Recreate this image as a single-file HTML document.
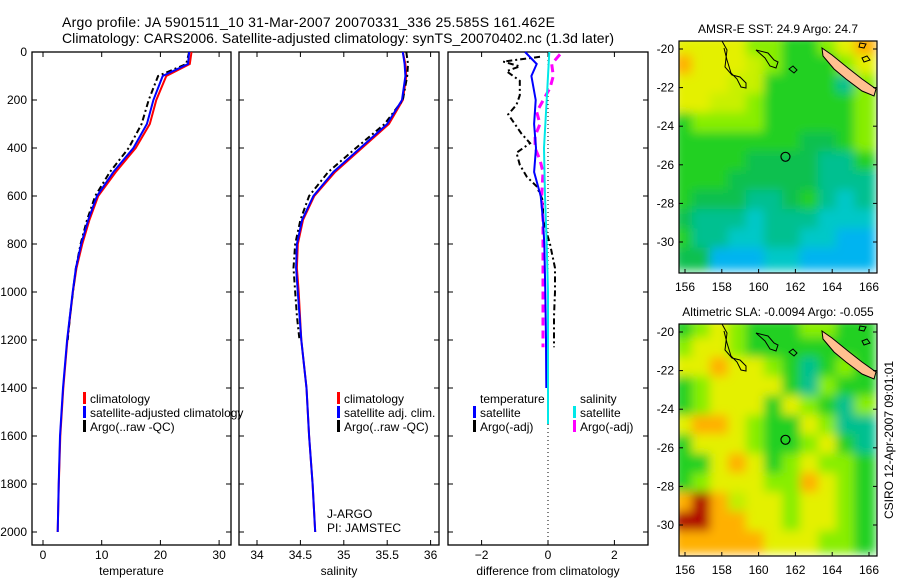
<!DOCTYPE html>
<html><head><meta charset="utf-8">
<style>
html,body{margin:0;padding:0;background:#fff}
svg{display:block;font-family:"Liberation Sans",sans-serif}
text{font-size:12px;fill:#000}
</style></head>
<body>
<svg id="fig" width="900" height="580" viewBox="0 0 900 580" xmlns="http://www.w3.org/2000/svg">
<defs>
<filter id="blur" x="-5%" y="-5%" width="110%" height="110%"><feGaussianBlur stdDeviation="5"/></filter>
<clipPath id="clipTop"><rect x="679" y="41" width="198" height="232"/></clipPath>
<clipPath id="clipBot"><rect x="679" y="324" width="198" height="232"/></clipPath>
</defs>
<text x="62" y="27" style="font-size:14px" textLength="493">Argo profile: JA 5901511_10 31-Mar-2007 20070331_336 25.585S 161.462E</text>
<text x="62" y="43" style="font-size:14px" textLength="552">Climatology: CARS2006. Satellite-adjusted climatology: synTS_20070402.nc (1.3d later)</text>
<g id="plots"></g>
<g id="maps"></g>
<text transform="translate(893,440) rotate(-90)" text-anchor="middle">CSIRO 12-Apr-2007 09:01:01</text>
</svg>
<script>
// ---- data ----
const depthTicks=[0,200,400,600,800,1000,1200,1400,1600,1800,2000];
const tempTicks=[0,10,20,30];
const salTicks=[34,34.5,35,35.5,36];
const diffTicks=[-2,0,2];
const satDepth=[0,50,100,200,300,400,500,600,700,800,900,1000,1200,1400,1600,1800,2000];
const tempSat=[24.9,24.7,20.4,18.8,17.7,15.4,12.0,9.2,7.7,6.5,5.6,5.06,4.1,3.4,2.9,2.67,2.5];
const tempClim=[25.3,25.0,21.0,19.3,18.2,15.8,12.4,9.4,7.9,6.7,5.7,5.1,4.15,3.45,2.95,2.7,2.5];
const argoDepth=[0,50,100,200,300,400,500,600,700,800,900,1000,1100,1200];
const tempArgo=[24.9,24.4,19.6,18.0,16.8,14.6,11.4,8.9,7.5,6.4,5.6,5.1,4.6,4.2];
const salSat=[35.68,35.70,35.71,35.67,35.50,35.19,34.88,34.65,34.52,34.46,34.45,34.47,34.51,34.57,34.60,34.64,34.67];
const salClim=[35.68,35.71,35.72,35.68,35.52,35.21,34.90,34.66,34.53,34.47,34.46,34.48,34.51,34.57,34.60,34.64,34.67];
const salArgo=[35.72,35.74,35.73,35.68,35.47,35.14,34.82,34.60,34.50,34.44,34.42,34.44,34.46,34.49];
const diffDepthT=[0,50,100,200,300,400,500,600,700,800,1000,1200,1400];
const diffTSat=[-0.69,-0.34,-0.5,-0.37,-0.42,-0.36,-0.42,-0.22,-0.15,-0.11,-0.08,-0.06,-0.05];
const diffDepthTA=[20,40,60,80,120,180,220,260,300,340,380,420,470,520,560,620,700,800,900,1000,1100,1230];
const diffTArgo=[-0.24,-1.35,-0.85,-1.25,-0.85,-0.85,-0.95,-1.2,-1.0,-0.8,-0.54,-0.95,-0.85,-0.64,-0.34,-0.15,-0.15,0.06,0.21,0.21,0.18,0.18];
const diffDepthS=[0,200,400,600,800,1000,1200,1550];
const diffSSat=[0.04,-0.04,-0.12,-0.09,-0.04,0,0,0];
const diffDepthSA=[10,50,100,150,250,300,350,400,450,500,600,700,800,1000,1230];
const diffSArgo=[0.36,0.11,0.16,0.06,-0.34,-0.24,-0.39,-0.39,-0.24,-0.15,-0.19,-0.15,-0.15,-0.15,-0.15];
const lonTicks=[156,158,160,162,164,166];
const latTicks=[-20,-22,-24,-26,-28,-30];
const sstGrid=["YYYYLLGGLYO","OYYYyLGGGLY","YYYyyGGGGTL","YYyyLGGGGGL","GLLLLGGGGGL","GGGGGGGggGL","GGGGggggTTG","GGGgggggTTT","GgggTTgGTCT","gTTTCTTTCCC","GTTCCTTCCBB","ggBBBCCBBBB"];
const slaGrid=["GLYLGGGLLGG","LYYLGGGGGGG","YYOYYLGTGLG","GLYYYYGTLGG","GLYYYGYLGTL","YOOYLGGYLTT","GYYYLGGLYGT","GGYOYGLYLLG","GLYYYLLOYLG","ORObYYLYYLG","RROOYYLYYLG","OOOOOYYYLLG"];
const palette={Y:"#e4f000",y:"#c8f000",L:"#88ee00",G:"#20d020",g:"#10c050",T:"#00c090",C:"#00c8c8",B:"#00b4f0",O:"#ffb000",R:"#b00000",b:"#c0ee00"};
// ---- helpers ----
const NS="http://www.w3.org/2000/svg";
const plots=document.getElementById('plots');
const maps=document.getElementById('maps');
function mk(tag,attrs,parent){const e=document.createElementNS(NS,tag);for(const k in attrs)e.setAttribute(k,attrs[k]);parent.appendChild(e);return e;}
const Y0=52,DY=0.24,PB=545;
function yD(d){return Y0+DY*d;}
function xT(t){return 43+5.87*t;}
function xS(s){return 257+86.8*(s-34);}
function xDf(v){return 548+33.2*v;}
function line(xs,ds,fx,color,w,dash,name){
  let p='';for(let i=0;i<xs.length;i++){p+=(i?'L':'M')+fx(xs[i]).toFixed(1)+','+yD(ds[i]).toFixed(1);}
  const e=mk('path',{d:p,fill:'none',stroke:color,'stroke-width':w},plots);
  if(dash)e.setAttribute('stroke-dasharray',dash);
  
  
}
function panel(x0,x1,name,xticks,fx,xlabel,ylabels){
  const g=mk('g',{},plots);
  
  
  mk('rect',{x:x0,y:Y0,width:x1-x0,height:PB-Y0,fill:'none',stroke:'#000','stroke-width':1.3},g);
  depthTicks.forEach(d=>{
    mk('line',{x1:x0,x2:x0+5,y1:yD(d),y2:yD(d),stroke:'#000'},g);
    mk('line',{x1:x1-5,x2:x1,y1:yD(d),y2:yD(d),stroke:'#000'},g);
    if(ylabels){const t=mk('text',{x:x0-5,y:yD(d)+4,'text-anchor':'end'},g);t.textContent=d;
      
      }
  });
  xticks.forEach(v=>{
    const x=fx(v);
    mk('line',{x1:x,x2:x,y1:PB,y2:PB-5,stroke:'#000'},g);
    mk('line',{x1:x,x2:x,y1:Y0,y2:Y0+5,stroke:'#000'},g);
    const t=mk('text',{x:x,y:PB+14,'text-anchor':'middle'},g);t.textContent=(v<0?'\u2212':'')+Math.abs(v);
    
    
  });
  const l=mk('text',{x:(x0+x1)/2,y:PB+30,'text-anchor':'middle'},g);l.textContent=xlabel;
  
  
}
function legend(x,y,items,g){
  items.forEach((it,i)=>{
    if(it[0])mk('rect',{x:x,y:y+i*14-11,width:3,height:12,fill:it[0]},g);
    const t=mk('text',{x:x+7,y:y+i*14},g);t.textContent=it[1];
    
    
  });
}
panel(32,231,'temperature-panel',tempTicks,xT,'temperature',true);
panel(239,439,'salinity-panel',salTicks,xS,'salinity',false);
panel(448,648,'difference-panel',diffTicks,xDf,'difference from climatology',false);
// zero dotted line
mk('line',{x1:xDf(0),x2:xDf(0),y1:Y0,y2:PB,stroke:'#000','stroke-dasharray':'1,3'},plots);
line(tempClim,satDepth,xT,'#ff0000',2,null,'temp-climatology-line');
line(tempArgo,argoDepth,xT,'#000',2,'6,3,2,3','temp-argo-line');
line(tempSat,satDepth,xT,'#0000ff',2,null,'temp-satellite-line');
line(salClim,satDepth,xS,'#ff0000',2,null,'sal-climatology-line');
line(salArgo,argoDepth,xS,'#000',2,'6,3,2,3','sal-argo-line');
line(salSat,satDepth,xS,'#0000ff',2,null,'sal-satellite-line');
line(diffTArgo,diffDepthTA,xDf,'#000',2,'6,3,2,3','diff-temp-argo-line');
line(diffSArgo,diffDepthSA,xDf,'#ff00ff',3,'8,5','diff-sal-argo-line');
line(diffTSat,diffDepthT,xDf,'#0000ff',2,null,'diff-temp-satellite-line');
line(diffSSat,diffDepthS,xDf,'#00e8e8',2,null,'diff-sal-satellite-line');
const lg=mk('g',{},plots);
legend(83,403,[['#ff0000','climatology'],['#0000ff','satellite-adjusted climatology'],['#000','Argo(..raw -QC)']],lg);
legend(337,403,[['#ff0000','climatology'],['#0000ff','satellite adj. clim.'],['#000','Argo(..raw -QC)']],lg);
legend(473,403,[[null,'temperature'],['#0000ff','satellite'],['#000','Argo(-adj)']],lg);
legend(573,403,[[null,'salinity'],['#00e8e8','satellite'],['#ff00ff','Argo(-adj)']],lg);
let t=mk('text',{x:327,y:518},lg);t.textContent='J-ARGO';


t=mk('text',{x:327,y:532},lg);t.textContent='PI: JAMSTEC';


// ---- maps ----
function drawMap(top,grid,title,clip,name){
  const g=mk('g',{},maps);
  
  
  const lx=lon=>685+18.4*(lon-156);
  const ly=lat=>top+8+(-20-lat)*19.3;
  const cg=mk('g',{'clip-path':'url(#'+clip+')'},g);
  const bg=mk('g',{filter:'url(#blur)'},cg);
  grid.forEach((row,r)=>{[...row].forEach((c,k)=>{
    const x0=lx(155.5+k*0.98),y0=ly(-19.4-r*1.0);
    mk('rect',{x:x0-2,y:y0-2,width:22,height:23,fill:palette[c]},bg);
  });});
  // coastline contours
  const o=top-41;
  mk('path',{d:`M722,${41+o} L727,${50+o} L725,${67+o} L732,${75+o} L740,${77+o} L746,${83+o} L746,${88+o} L741,${87+o} L737,${79+o} L731,${73+o} L727,${60+o} L724,${48+o}`,fill:'none',stroke:'#000','stroke-width':1},cg);
  mk('path',{d:`M756,${50+o} L768,${53+o} L774,${60+o} L778,${62+o} L776,${68+o} L770,${66+o} L765,${58+o} Z`,fill:'none',stroke:'#000','stroke-width':1},cg);
  mk('path',{d:`M789,${69+o} l4,-3 l4,4 l-3,3 Z`,fill:'none',stroke:'#000'},cg);
  mk('path',{d:`M860,${43+o} l6,1 l-2,4 l-5,-1 Z`,fill:'none',stroke:'#000'},cg);
  mk('path',{d:`M862,${58+o} l5,-2 l3,4 l-6,2 Z`,fill:'none',stroke:'#000'},cg);
  mk('path',{d:`M822,${48+o} L832,${55+o} L848,${68+o} L862,${79+o} L876,${89+o} L874,${96+o} L862,${91+o} L846,${79+o} L834,${69+o} L823,${56+o} Z`,fill:'#ffc090',stroke:'#000','stroke-width':1},cg);
  mk('rect',{x:679,y:top,width:198,height:232,fill:'none',stroke:'#000','stroke-width':1.2},g);
  mk('circle',{cx:lx(161.46),cy:ly(-25.585),r:4.5,fill:'none',stroke:'#000','stroke-width':1.2},g);
  lonTicks.forEach(v=>{const x=lx(v);
    mk('line',{x1:x,x2:x,y1:top+232,y2:top+228,stroke:'#000'},g);
    const tt=mk('text',{x:x,y:top+250,'text-anchor':'middle'},g);tt.textContent=v;
    
    });
  latTicks.forEach(v=>{const y=ly(v);
    mk('line',{x1:679,x2:683,y1:y,y2:y,stroke:'#000'},g);
    mk('line',{x1:873,x2:877,y1:y,y2:y,stroke:'#000'},g);
    const tt=mk('text',{x:674,y:y+4,'text-anchor':'end'},g);tt.textContent='-'+Math.abs(v);
    
    });
  const tt=mk('text',{x:778,y:top-8,'text-anchor':'middle'},g);tt.textContent=title;
  
  
}
drawMap(41,sstGrid,'AMSR-E SST: 24.9 Argo: 24.7','clipTop','sst-map');
drawMap(324,slaGrid,'Altimetric SLA: -0.0094 Argo: -0.055','clipBot','sla-map');
</script>
</body></html>
